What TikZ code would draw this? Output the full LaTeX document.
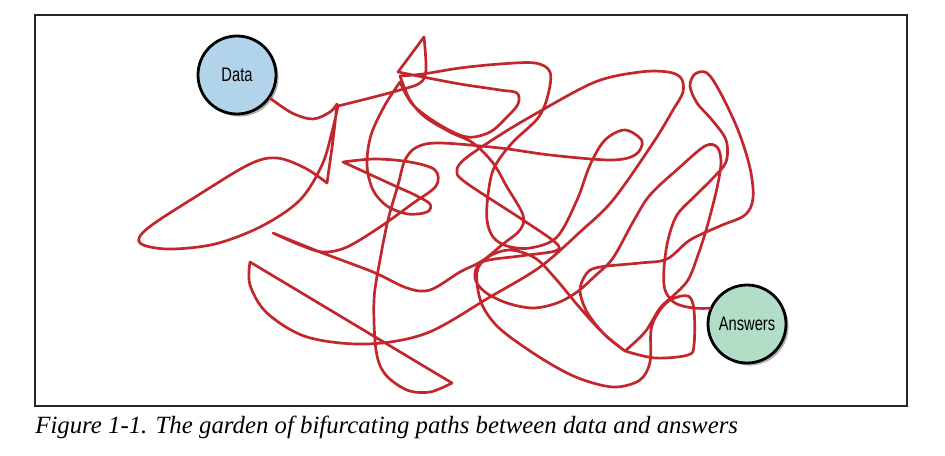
\documentclass[tikz,border=0pt]{standalone}
\usepackage{fontspec}
\setmainfont{Liberation Serif}
\newfontfamily\labelfont[FakeStretch=0.75]{Liberation Sans}
\usetikzlibrary{shadows}
\definecolor{tangleRed}{HTML}{C1272D}
\definecolor{dataBlue}{HTML}{B2D4EA}
\definecolor{answerGreen}{HTML}{B2DEC7}

\begin{document}
\begin{tikzpicture}[x=0.5pt, y=-0.5pt,
  frame/.style={draw=black!85, line width=0.7pt},
  endpoint/.style={circle, draw=black, line width=1.4pt, minimum size=39pt, inner sep=0pt,
    font=\labelfont\fontsize{9.8}{11}\selectfont,
    drop shadow={shadow xshift=1.3pt, shadow yshift=-1.3pt, fill=black, opacity=0.3}},
  tangle/.style={draw=tangleRed, line width=1.35pt, line join=round, line cap=round},
  path seg/.style={smooth, tension=0.55}]
  \useasboundingbox (0,0) rectangle (945,455);
  \draw[frame] (35,15) rectangle (907,406);

  \node[endpoint, fill=dataBlue] (data) at (237,75) {Data};
  \node[endpoint, fill=answerGreen] (answers) at (747,324) {Answers};

  % one long wandering path from data to answers
  \draw[tangle]
    plot[path seg] coordinates {(data.-35) (292,113) (313,119) (330,112) (337,104)}
    -- plot[path seg] coordinates {(337,104) (333,140) (327,183)}
    -- plot[path seg] coordinates {(327,183) (305,168) (277,158) (250,164) (200,194) (148,228) (140,243)
         (168,249) (215,244) (262,226) (300,200) (322,165) (332,132) (338,106)}
    -- plot[path seg] coordinates {(338,106) (370,98) (400,90) (420,83) (426,70) (424,37)}
    -- (398,72)
    -- plot[path seg] coordinates {(398,72) (423,77) (460,84) (500,90) (517,93) (518,104) (507,117)
         (490,132) (467,137) (440,125) (413,105) (400,82)}
    -- plot[path seg] coordinates {(400,82) (385,105) (371,135) (367,165) (373,190) (387,206) (408,214)
         (427,212) (430,204) (415,195) (393,185) (343,162)}
    -- plot[path seg] coordinates {(343,162) (375,159) (410,162) (435,170) (436,186) (412,204) (380,227)
         (347,247) (323,252) (300,245) (273,233)}
    -- plot[path seg] coordinates {(273,233) (320,252) (373,272) (407,288) (430,290) (460,272) (482,261)
         (503,244) (520,230) (523,215) (507,187) (493,163) (473,143) (450,132) (425,117) (410,100) (400,76)}
    -- plot[path seg] coordinates {(400,76) (423,74) (460,68) (500,64) (535,63) (550,72) (548,95)
         (538,118) (512,143) (494,168) (488,195) (487,220) (493,237) (507,246) (530,248) (557,237)
         (577,200) (590,165) (605,140) (625,130) (642,141) (635,155) (610,160) (550,155) (500,148)
         (440,143) (417,147) (405,160) (398,185) (388,220) (380,260) (374,300) (376,350) (385,374)
         (407,390) (430,392) (452,383)}
    -- (250,262)
    -- plot[path seg] coordinates {(250,262) (250,285) (267,313) (307,337) (367,344) (427,333) (490,297)
         (540,267) (580,232) (613,200) (653,143) (673,110) (683,92) (681,78) (668,72) (640,72) (595,82)
         (537,113) (500,135) (466,158) (457,170) (465,182) (523,220) (556,243) (555,251) (520,256)
         (482,262) (475,278) (485,292) (507,303) (533,308) (557,303) (577,292) (595,276) (613,258)
         (633,222) (650,195) (680,167) (705,146) (717,147) (721,162) (717,188) (707,227) (698,255)
         (688,280) (673,296) (660,308) (645,332) (625,351)}
    -- plot[path seg] coordinates {(625,351) (603,333) (580,308) (555,278) (535,258) (510,250) (488,257)
         (477,272) (481,302) (498,327) (533,353) (567,373) (593,383) (617,387) (640,380) (650,362)
         (651,330) (658,313) (670,300) (688,296) (694,310) (694,345) (688,355) (655,358) (625,351)}
    -- plot[path seg] coordinates {(625,351) (605,335) (587,312) (580,290) (587,273) (600,267) (640,263)
         (667,259) (690,240) (720,226) (745,215) (753,198) (750,168) (738,130) (720,92) (707,73)
         (695,74) (690,86) (697,103) (712,120) (726,140) (726,162) (713,178) (695,196) (677,215)
         (668,240) (664,268) (665,290) (675,303) (693,308) (answers.157)};

  \node[anchor=base west, inner sep=0pt, font=\fontsize{12.4}{14}\selectfont\itshape] (caption) at (35,433)
    {Figure 1-1. The garden of bifurcating paths between data and answers};
\end{tikzpicture}
\end{document}
